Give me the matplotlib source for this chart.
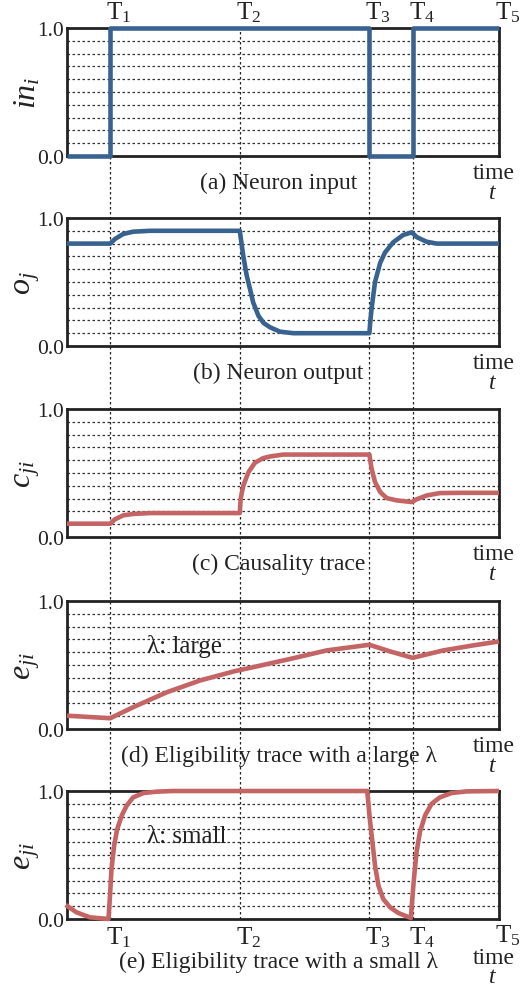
import matplotlib
matplotlib.use("Agg")
import matplotlib.pyplot as plt
from matplotlib.lines import Line2D
import matplotlib.transforms as mtransforms

plt.rcParams['font.family'] = ['Liberation Serif', 'DejaVu Serif']
plt.rcParams['mathtext.fontset'] = 'custom'
plt.rcParams['mathtext.rm'] = 'Liberation Serif'
plt.rcParams['mathtext.it'] = 'Liberation Serif:italic'

# ---------------- data ----------------
time_marks = [0.1, 0.4, 0.7, 0.8, 1.0]
time_labels = [r'$\mathrm{T}_1$', r'$\mathrm{T}_2$', r'$\mathrm{T}_3$', r'$\mathrm{T}_4$', r'$\mathrm{T}_5$']

in_t = [0.0, 0.1, 0.1, 0.7, 0.7, 0.8, 0.8, 1.0]
in_v = [0.0, 0.0, 1.0, 1.0, 0.0, 0.0, 1.0, 1.0]

out_t = [0.0, 0.1, 0.111, 0.13, 0.153, 0.192, 0.25, 0.4, 0.404, 0.408, 0.416, 0.424, 0.431, 0.443,
         0.455, 0.47, 0.493, 0.524, 0.6, 0.7, 0.702, 0.705, 0.713, 0.725, 0.736, 0.755, 0.778, 0.798,
         0.81, 0.832, 0.856, 0.9, 1.0]
out_v = [0.80, 0.80, 0.836, 0.875, 0.893, 0.90, 0.90, 0.90, 0.80, 0.705, 0.55, 0.44, 0.34, 0.237,
         0.18, 0.146, 0.112, 0.10, 0.10, 0.10, 0.19, 0.29, 0.50, 0.65, 0.73, 0.81, 0.867, 0.888,
         0.85, 0.815, 0.80, 0.80, 0.80]

caus_t = [0.0, 0.1, 0.111, 0.13, 0.153, 0.192, 0.3, 0.4, 0.402, 0.408, 0.42, 0.435, 0.454, 0.47,
          0.5, 0.6, 0.7, 0.705, 0.713, 0.725, 0.74, 0.763, 0.798, 0.809, 0.833, 0.863, 0.91, 1.0]
caus_v = [0.104, 0.104, 0.138, 0.169, 0.18, 0.187, 0.187, 0.187, 0.30, 0.40, 0.506, 0.58, 0.616, 0.629,
          0.644, 0.644, 0.644, 0.535, 0.43, 0.351, 0.304, 0.286, 0.273, 0.294, 0.325, 0.343, 0.345, 0.345]

eligL_t = [0.0, 0.1, 0.153, 0.231, 0.308, 0.385, 0.447, 0.524, 0.601, 0.7, 0.748, 0.8, 0.871, 0.94, 1.0]
eligL_v = [0.104, 0.084, 0.17, 0.287, 0.379, 0.449, 0.495, 0.553, 0.614, 0.658, 0.606, 0.556, 0.614, 0.653, 0.684]

eligS_t = [-0.003, 0.022, 0.053, 0.096, 0.0995, 0.103, 0.109, 0.116, 0.127, 0.138, 0.153, 0.177, 0.208,
           0.246, 0.4, 0.695, 0.701, 0.708, 0.713, 0.721, 0.732, 0.748, 0.767, 0.786, 0.796,
           0.798, 0.803, 0.809, 0.817, 0.829, 0.844, 0.863, 0.89, 0.925, 1.0]
eligS_v = [0.11, 0.052, 0.013, 0.0, 0.18, 0.39, 0.57, 0.70, 0.81, 0.885, 0.95, 0.984, 0.995,
           1.0, 1.0, 1.0, 0.78, 0.57, 0.417, 0.26, 0.156, 0.091, 0.047, 0.021, 0.008,
           0.104, 0.31, 0.52, 0.68, 0.81, 0.90, 0.95, 0.984, 0.997, 1.0]

panel_ylabels = [r'$in_i$', r'$o_j$', r'$c_{ji}$', r'$e_{ji}$', r'$e_{ji}$']
panel_captions = ['(a) Neuron input', '(b) Neuron output', '(c) Causality trace',
                  '(d) Eligibility trace with a large λ', '(e) Eligibility trace with a small λ']
lambda_notes = [None, None, None, 'λ: large', 'λ: small']
series_t = [in_t, out_t, caus_t, eligL_t, eligS_t]
series_v = [in_v, out_v, caus_v, eligL_v, eligS_v]

BLUE = '#38628f'
RED = '#c46464'
TXT = '#222222'
colors = [BLUE, BLUE, RED, RED, RED]

# ---------------- layout ----------------
W, H = 532, 987
fig = plt.figure(figsize=(W / 100, H / 100), dpi=100)
left_px, width_px, height_px = 67, 432, 128
tops_px = [29, 219, 410, 602, 792]

axes = []
for i, top in enumerate(tops_px):
    ax = fig.add_axes([left_px / W, 1 - (top + height_px) / H, width_px / W, height_px / H])
    ax.set_facecolor('none')
    ax.set_xlim(0, 1)
    ax.set_ylim(0, 1)
    for s in ax.spines.values():
        s.set_linewidth(2.0)
        s.set_color(TXT)
    ax.set_xticks([])
    ax.set_yticks([0, 1])
    ax.set_yticklabels(['0.0', '1.0'], fontsize=15.5)
    ax.tick_params(axis='y', length=0, pad=2, colors=TXT)
    for g in [0.1, 0.2, 0.3, 0.4, 0.5, 0.6, 0.7, 0.8, 0.9]:
        ax.axhline(g, color='#333333', lw=0.9, ls=(0, (2, 2)), zorder=1)
    ax.plot(series_t[i], series_v[i], color=colors[i], lw=3.3, zorder=4,
            clip_on=False, solid_joinstyle='round', solid_capstyle='butt')
    ax.text(-0.092, 0.5, panel_ylabels[i], transform=ax.transAxes, rotation=90,
            ha='center', va='center', fontsize=23, color=TXT)
    ax.text(0.49, -0.21 if i < 4 else -0.335, panel_captions[i], transform=ax.transAxes,
            ha='center', va='center', fontsize=17, color=TXT)
    ax.text(0.988, -0.13 if i < 4 else -0.30, 'time', transform=ax.transAxes,
            ha='center', va='center', fontsize=17, color=TXT)
    ax.text(0.985, -0.285 if i < 4 else -0.45, r'$t$', transform=ax.transAxes,
            ha='center', va='center', fontsize=17, color=TXT)
    if lambda_notes[i]:
        ax.text(0.185, 0.65, lambda_notes[i], transform=ax.transAxes,
                ha='left', va='center', fontsize=18, color=TXT)
    axes.append(ax)

# vertical dotted time markers spanning all panels
y_top = 1 - tops_px[0] / H
y_bot = 1 - (tops_px[-1] + height_px) / H
trans = mtransforms.blended_transform_factory(axes[0].transData, fig.transFigure)
for tm in time_marks[:4]:
    fig.add_artist(Line2D([tm, tm], [y_bot, y_top], transform=trans, color=TXT,
                          lw=0.9, ls=(0, (2, 2)), zorder=-1))

# time labels on top of panel (a) and below panel (e)
off = mtransforms.ScaledTranslation(-4 / 100, 0, fig.dpi_scale_trans)
for tm, lab in zip(time_marks, time_labels):
    ta = mtransforms.blended_transform_factory(axes[0].transData, axes[0].transAxes) + off
    axes[0].text(tm, 1.13, lab, transform=ta, ha='left', va='center', fontsize=18, color=TXT)
    te = mtransforms.blended_transform_factory(axes[4].transData, axes[4].transAxes) + off
    yb = -0.14 if tm < 1.0 else -0.12
    axes[4].text(tm, yb, lab, transform=te, ha='left', va='center', fontsize=18, color=TXT)

fig.savefig('out.png', dpi=100)
